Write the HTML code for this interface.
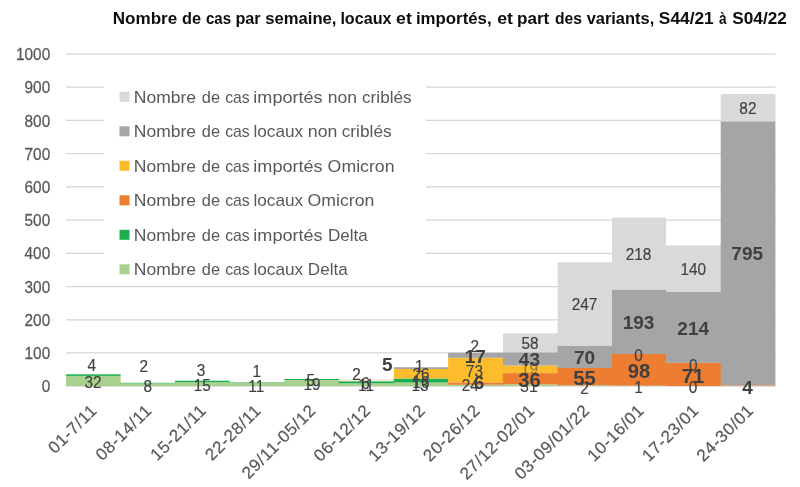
<!DOCTYPE html><html><head><meta charset="utf-8"><style>html,body{margin:0;padding:0;background:#fff;width:800px;height:487px;overflow:hidden}svg{display:block;will-change:transform;font-family:"Liberation Sans",sans-serif}</style></head><body>
<svg width="800" height="487" viewBox="0 0 800 487">
<rect width="800" height="487" fill="#fff"/>
<line x1="66.0" x2="775.42" y1="386.20" y2="386.20" stroke="#D5D5D5" stroke-width="1.25"/>
<line x1="66.0" x2="775.42" y1="352.98" y2="352.98" stroke="#D5D5D5" stroke-width="1.25"/>
<line x1="66.0" x2="775.42" y1="319.76" y2="319.76" stroke="#D5D5D5" stroke-width="1.25"/>
<line x1="66.0" x2="775.42" y1="286.54" y2="286.54" stroke="#D5D5D5" stroke-width="1.25"/>
<line x1="66.0" x2="775.42" y1="253.32" y2="253.32" stroke="#D5D5D5" stroke-width="1.25"/>
<line x1="66.0" x2="775.42" y1="220.10" y2="220.10" stroke="#D5D5D5" stroke-width="1.25"/>
<line x1="66.0" x2="775.42" y1="186.88" y2="186.88" stroke="#D5D5D5" stroke-width="1.25"/>
<line x1="66.0" x2="775.42" y1="153.66" y2="153.66" stroke="#D5D5D5" stroke-width="1.25"/>
<line x1="66.0" x2="775.42" y1="120.44" y2="120.44" stroke="#D5D5D5" stroke-width="1.25"/>
<line x1="66.0" x2="775.42" y1="87.22" y2="87.22" stroke="#D5D5D5" stroke-width="1.25"/>
<line x1="66.0" x2="775.42" y1="54.00" y2="54.00" stroke="#D5D5D5" stroke-width="1.25"/>
<rect x="104" y="62" width="322" height="218" fill="#fff"/>
<text x="529" y="392.10" font-size="16" fill="#404040" text-anchor="middle">31</text>
<path d="M66.00 375.90H120.60V382.80H121.20V386.00H66.00Z" fill="#A9D18E"/>
<rect x="66.00" y="374.30" width="54.60" height="1.60" fill="#1EAE4F"/>
<rect x="120.60" y="383.40" width="55.05" height="2.60" fill="#A9D18E"/>
<rect x="120.60" y="382.80" width="55.05" height="0.60" fill="#1EAE4F"/>
<path d="M175.05 382.25H229.65V382.40H230.25V386.00H175.05Z" fill="#A9D18E"/>
<rect x="175.05" y="380.70" width="54.60" height="1.55" fill="#1EAE4F"/>
<rect x="229.65" y="382.90" width="55.35" height="3.10" fill="#A9D18E"/>
<rect x="229.65" y="382.40" width="55.35" height="0.50" fill="#1EAE4F"/>
<rect x="284.40" y="380.10" width="55.00" height="5.90" fill="#A9D18E"/>
<path d="M284.40 378.90H338.80V379.60H339.40V380.10H284.40Z" fill="#1EAE4F"/>
<rect x="338.80" y="383.40" width="55.60" height="2.60" fill="#A9D18E"/>
<rect x="338.80" y="381.40" width="55.60" height="2.00" fill="#1EAE4F"/>
<rect x="338.80" y="379.60" width="55.60" height="0.90" fill="#EBCBA8"/>
<rect x="393.80" y="382.50" width="54.90" height="3.50" fill="#A9D18E"/>
<rect x="393.80" y="378.50" width="54.90" height="4.00" fill="#1EAE4F"/>
<rect x="393.80" y="369.00" width="54.90" height="9.50" fill="#FCBC2C"/>
<rect x="393.80" y="367.20" width="54.90" height="1.80" fill="#A5A5A5"/>
<rect x="448.10" y="384.80" width="55.40" height="1.20" fill="#A9D18E"/>
<rect x="448.10" y="382.40" width="55.40" height="2.40" fill="#ED7D31"/>
<rect x="448.10" y="357.80" width="55.40" height="24.60" fill="#FCBC2C"/>
<rect x="448.10" y="352.80" width="55.40" height="5.00" fill="#A5A5A5"/>
<rect x="502.90" y="384.40" width="55.30" height="1.60" fill="#A9D18E"/>
<rect x="502.90" y="373.10" width="55.30" height="11.30" fill="#ED7D31"/>
<rect x="502.90" y="365.50" width="55.30" height="7.60" fill="#FCBC2C"/>
<rect x="502.90" y="352.30" width="55.30" height="13.20" fill="#A5A5A5"/>
<rect x="502.90" y="333.30" width="55.30" height="19.00" fill="#D9D9D9"/>
<rect x="557.60" y="385.30" width="55.00" height="0.70" fill="#A9D18E"/>
<rect x="557.60" y="368.00" width="55.00" height="17.30" fill="#ED7D31"/>
<rect x="557.60" y="345.50" width="55.00" height="22.50" fill="#A5A5A5"/>
<rect x="557.60" y="262.30" width="55.00" height="83.20" fill="#D9D9D9"/>
<rect x="612.00" y="385.60" width="54.70" height="0.40" fill="#A9D18E"/>
<rect x="612.00" y="354.00" width="54.70" height="31.60" fill="#ED7D31"/>
<rect x="612.00" y="289.50" width="54.70" height="64.50" fill="#A5A5A5"/>
<path d="M612.00 217.50H666.10V245.50H666.70V289.50H612.00Z" fill="#D9D9D9"/>
<rect x="666.10" y="362.80" width="55.20" height="23.20" fill="#ED7D31"/>
<rect x="666.10" y="292.00" width="55.20" height="70.80" fill="#A5A5A5"/>
<rect x="666.10" y="245.50" width="55.20" height="46.50" fill="#D9D9D9"/>
<rect x="720.70" y="385.10" width="54.72" height="0.90" fill="#E9A070"/>
<rect x="720.70" y="121.30" width="54.72" height="263.80" fill="#A5A5A5"/>
<rect x="720.70" y="94.00" width="54.72" height="27.30" fill="#D9D9D9"/>
<text x="112.72" y="24.3" font-size="16.5" font-weight="bold" fill="#0D0D0D" textLength="64.50" lengthAdjust="spacingAndGlyphs">Nombre</text>
<text x="182.06" y="24.3" font-size="16.5" font-weight="bold" fill="#0D0D0D" textLength="19.05" lengthAdjust="spacingAndGlyphs">de</text>
<text x="205.92" y="24.3" font-size="16.5" font-weight="bold" fill="#0D0D0D" textLength="25.10" lengthAdjust="spacingAndGlyphs">cas</text>
<text x="235.42" y="24.3" font-size="16.5" font-weight="bold" fill="#0D0D0D" textLength="25.27" lengthAdjust="spacingAndGlyphs">par</text>
<text x="265.35" y="24.3" font-size="16.5" font-weight="bold" fill="#0D0D0D" textLength="71.09" lengthAdjust="spacingAndGlyphs">semaine,</text>
<text x="340.38" y="24.3" font-size="16.5" font-weight="bold" fill="#0D0D0D" textLength="51.15" lengthAdjust="spacingAndGlyphs">locaux</text>
<text x="396.10" y="24.3" font-size="16.5" font-weight="bold" fill="#0D0D0D" textLength="15.69" lengthAdjust="spacingAndGlyphs">et</text>
<text x="415.93" y="24.3" font-size="16.5" font-weight="bold" fill="#0D0D0D" textLength="75.73" lengthAdjust="spacingAndGlyphs">importés,</text>
<text x="497.30" y="24.3" font-size="16.5" font-weight="bold" fill="#0D0D0D" textLength="15.69" lengthAdjust="spacingAndGlyphs">et</text>
<text x="517.07" y="24.3" font-size="16.5" font-weight="bold" fill="#0D0D0D" textLength="32.21" lengthAdjust="spacingAndGlyphs">part</text>
<text x="554.89" y="24.3" font-size="16.5" font-weight="bold" fill="#0D0D0D" textLength="27.02" lengthAdjust="spacingAndGlyphs">des</text>
<text x="586.65" y="24.3" font-size="16.5" font-weight="bold" fill="#0D0D0D" textLength="67.57" lengthAdjust="spacingAndGlyphs">variants,</text>
<text x="658.88" y="24.3" font-size="16.5" font-weight="bold" fill="#0D0D0D" textLength="54.80" lengthAdjust="spacingAndGlyphs">S44/21</text>
<text x="718.99" y="24.3" font-size="16.5" font-weight="bold" fill="#0D0D0D" textLength="7.56" lengthAdjust="spacingAndGlyphs">à</text>
<text x="732.28" y="24.3" font-size="16.5" font-weight="bold" fill="#0D0D0D" textLength="54.54" lengthAdjust="spacingAndGlyphs">S04/22</text>
<rect x="119.5" y="91.80" width="10" height="10" fill="#D9D9D9"/>
<text x="133.75" y="102.90" font-size="17" fill="#595959" textLength="62.29" lengthAdjust="spacingAndGlyphs">Nombre</text>
<text x="201.78" y="102.90" font-size="17" fill="#595959" textLength="18.27" lengthAdjust="spacingAndGlyphs">de</text>
<text x="225.20" y="102.90" font-size="17" fill="#595959" textLength="24.56" lengthAdjust="spacingAndGlyphs">cas</text>
<text x="253.37" y="102.90" font-size="17" fill="#595959" textLength="69.26" lengthAdjust="spacingAndGlyphs">importés</text>
<text x="327.81" y="102.90" font-size="17" fill="#595959" textLength="29.25" lengthAdjust="spacingAndGlyphs">non</text>
<text x="362.04" y="102.90" font-size="17" fill="#595959" textLength="49.59" lengthAdjust="spacingAndGlyphs">criblés</text>
<rect x="119.5" y="126.30" width="10" height="10" fill="#A5A5A5"/>
<text x="133.75" y="137.40" font-size="17" fill="#595959" textLength="62.29" lengthAdjust="spacingAndGlyphs">Nombre</text>
<text x="201.78" y="137.40" font-size="17" fill="#595959" textLength="18.27" lengthAdjust="spacingAndGlyphs">de</text>
<text x="225.20" y="137.40" font-size="17" fill="#595959" textLength="24.56" lengthAdjust="spacingAndGlyphs">cas</text>
<text x="253.44" y="137.40" font-size="17" fill="#595959" textLength="49.61" lengthAdjust="spacingAndGlyphs">locaux</text>
<text x="307.79" y="137.40" font-size="17" fill="#595959" textLength="29.63" lengthAdjust="spacingAndGlyphs">non</text>
<text x="341.74" y="137.40" font-size="17" fill="#595959" textLength="49.90" lengthAdjust="spacingAndGlyphs">criblés</text>
<rect x="119.5" y="160.80" width="10" height="10" fill="#FCBC2C"/>
<text x="133.75" y="171.90" font-size="17" fill="#595959" textLength="62.29" lengthAdjust="spacingAndGlyphs">Nombre</text>
<text x="201.78" y="171.90" font-size="17" fill="#595959" textLength="18.27" lengthAdjust="spacingAndGlyphs">de</text>
<text x="225.20" y="171.90" font-size="17" fill="#595959" textLength="24.56" lengthAdjust="spacingAndGlyphs">cas</text>
<text x="253.37" y="171.90" font-size="17" fill="#595959" textLength="69.26" lengthAdjust="spacingAndGlyphs">importés</text>
<text x="327.62" y="171.90" font-size="17" fill="#595959" textLength="66.97" lengthAdjust="spacingAndGlyphs">Omicron</text>
<rect x="119.5" y="195.30" width="10" height="10" fill="#ED7D31"/>
<text x="133.75" y="206.40" font-size="17" fill="#595959" textLength="62.29" lengthAdjust="spacingAndGlyphs">Nombre</text>
<text x="201.78" y="206.40" font-size="17" fill="#595959" textLength="18.27" lengthAdjust="spacingAndGlyphs">de</text>
<text x="225.20" y="206.40" font-size="17" fill="#595959" textLength="24.56" lengthAdjust="spacingAndGlyphs">cas</text>
<text x="253.44" y="206.40" font-size="17" fill="#595959" textLength="49.61" lengthAdjust="spacingAndGlyphs">locaux</text>
<text x="307.62" y="206.40" font-size="17" fill="#595959" textLength="66.76" lengthAdjust="spacingAndGlyphs">Omicron</text>
<rect x="119.5" y="229.80" width="10" height="10" fill="#1EAE4F"/>
<text x="133.75" y="240.90" font-size="17" fill="#595959" textLength="62.29" lengthAdjust="spacingAndGlyphs">Nombre</text>
<text x="201.78" y="240.90" font-size="17" fill="#595959" textLength="18.27" lengthAdjust="spacingAndGlyphs">de</text>
<text x="225.20" y="240.90" font-size="17" fill="#595959" textLength="24.56" lengthAdjust="spacingAndGlyphs">cas</text>
<text x="253.37" y="240.90" font-size="17" fill="#595959" textLength="69.26" lengthAdjust="spacingAndGlyphs">importés</text>
<text x="327.90" y="240.90" font-size="17" fill="#595959" textLength="39.74" lengthAdjust="spacingAndGlyphs">Delta</text>
<rect x="119.5" y="264.30" width="10" height="10" fill="#A9D18E"/>
<text x="133.75" y="275.40" font-size="17" fill="#595959" textLength="62.29" lengthAdjust="spacingAndGlyphs">Nombre</text>
<text x="201.78" y="275.40" font-size="17" fill="#595959" textLength="18.27" lengthAdjust="spacingAndGlyphs">de</text>
<text x="225.20" y="275.40" font-size="17" fill="#595959" textLength="24.56" lengthAdjust="spacingAndGlyphs">cas</text>
<text x="253.44" y="275.40" font-size="17" fill="#595959" textLength="49.61" lengthAdjust="spacingAndGlyphs">locaux</text>
<text x="307.89" y="275.40" font-size="17" fill="#595959" textLength="39.84" lengthAdjust="spacingAndGlyphs">Delta</text>
<text transform="translate(50.2,392.20) scale(0.96,1)" font-size="16" fill="#595959" stroke="#595959" stroke-width="0.25" text-anchor="end">0</text>
<text transform="translate(50.2,359.00) scale(0.96,1)" font-size="16" fill="#595959" stroke="#595959" stroke-width="0.25" text-anchor="end">100</text>
<text transform="translate(50.2,325.80) scale(0.96,1)" font-size="16" fill="#595959" stroke="#595959" stroke-width="0.25" text-anchor="end">200</text>
<text transform="translate(50.2,292.60) scale(0.96,1)" font-size="16" fill="#595959" stroke="#595959" stroke-width="0.25" text-anchor="end">300</text>
<text transform="translate(50.2,259.40) scale(0.96,1)" font-size="16" fill="#595959" stroke="#595959" stroke-width="0.25" text-anchor="end">400</text>
<text transform="translate(50.2,226.20) scale(0.96,1)" font-size="16" fill="#595959" stroke="#595959" stroke-width="0.25" text-anchor="end">500</text>
<text transform="translate(50.2,193.00) scale(0.96,1)" font-size="16" fill="#595959" stroke="#595959" stroke-width="0.25" text-anchor="end">600</text>
<text transform="translate(50.2,159.80) scale(0.96,1)" font-size="16" fill="#595959" stroke="#595959" stroke-width="0.25" text-anchor="end">700</text>
<text transform="translate(50.2,126.60) scale(0.96,1)" font-size="16" fill="#595959" stroke="#595959" stroke-width="0.25" text-anchor="end">800</text>
<text transform="translate(50.2,93.40) scale(0.96,1)" font-size="16" fill="#595959" stroke="#595959" stroke-width="0.25" text-anchor="end">900</text>
<text transform="translate(50.2,60.20) scale(0.96,1)" font-size="16" fill="#595959" stroke="#595959" stroke-width="0.25" text-anchor="end">1000</text>
<text transform="translate(98.06,411.40) rotate(-45)" x="0" y="0" font-size="17" fill="#595959" stroke="#595959" stroke-width="0.2" text-anchor="end" letter-spacing="0.64">01-7/11</text>
<text transform="translate(152.78,411.40) rotate(-45)" x="0" y="0" font-size="17" fill="#595959" stroke="#595959" stroke-width="0.2" text-anchor="end" letter-spacing="0.64">08-14/11</text>
<text transform="translate(207.50,411.40) rotate(-45)" x="0" y="0" font-size="17" fill="#595959" stroke="#595959" stroke-width="0.2" text-anchor="end" letter-spacing="0.64">15-21/11</text>
<text transform="translate(262.22,411.40) rotate(-45)" x="0" y="0" font-size="17" fill="#595959" stroke="#595959" stroke-width="0.2" text-anchor="end" letter-spacing="0.64">22-28/11</text>
<text transform="translate(316.94,411.40) rotate(-45)" x="0" y="0" font-size="17" fill="#595959" stroke="#595959" stroke-width="0.2" text-anchor="end" letter-spacing="0.64">29/11-05/12</text>
<text transform="translate(371.66,411.40) rotate(-45)" x="0" y="0" font-size="17" fill="#595959" stroke="#595959" stroke-width="0.2" text-anchor="end" letter-spacing="0.64">06-12/12</text>
<text transform="translate(426.38,411.40) rotate(-45)" x="0" y="0" font-size="17" fill="#595959" stroke="#595959" stroke-width="0.2" text-anchor="end" letter-spacing="0.64">13-19/12</text>
<text transform="translate(481.10,411.40) rotate(-45)" x="0" y="0" font-size="17" fill="#595959" stroke="#595959" stroke-width="0.2" text-anchor="end" letter-spacing="0.64">20-26/12</text>
<text transform="translate(535.82,411.40) rotate(-45)" x="0" y="0" font-size="17" fill="#595959" stroke="#595959" stroke-width="0.2" text-anchor="end" letter-spacing="0.64">27/12-02/01</text>
<text transform="translate(590.54,411.40) rotate(-45)" x="0" y="0" font-size="17" fill="#595959" stroke="#595959" stroke-width="0.2" text-anchor="end" letter-spacing="0.64">03-09/01/22</text>
<text transform="translate(645.26,411.40) rotate(-45)" x="0" y="0" font-size="17" fill="#595959" stroke="#595959" stroke-width="0.2" text-anchor="end" letter-spacing="0.64">10-16/01</text>
<text transform="translate(699.98,411.40) rotate(-45)" x="0" y="0" font-size="17" fill="#595959" stroke="#595959" stroke-width="0.2" text-anchor="end" letter-spacing="0.64">17-23/01</text>
<text transform="translate(754.70,411.40) rotate(-45)" x="0" y="0" font-size="17" fill="#595959" stroke="#595959" stroke-width="0.2" text-anchor="end" letter-spacing="0.64">24-30/01</text>
<text transform="translate(91.8,370.55) scale(0.96,1)" font-size="16" fill="#404040" stroke="#404040" stroke-width="0.15" text-anchor="middle">4</text>
<text transform="translate(93,387.95) scale(0.96,1)" font-size="16" fill="#404040" stroke="#404040" stroke-width="0.15" text-anchor="middle">32</text>
<text transform="translate(143.8,371.75) scale(0.96,1)" font-size="16" fill="#404040" stroke="#404040" stroke-width="0.15" text-anchor="middle">2</text>
<text transform="translate(147.8,392.25) scale(0.96,1)" font-size="16" fill="#404040" stroke="#404040" stroke-width="0.15" text-anchor="middle">8</text>
<text transform="translate(201.1,375.95) scale(0.96,1)" font-size="16" fill="#404040" stroke="#404040" stroke-width="0.15" text-anchor="middle">3</text>
<text transform="translate(202.3,391.05) scale(0.96,1)" font-size="16" fill="#404040" stroke="#404040" stroke-width="0.15" text-anchor="middle">15</text>
<text transform="translate(256.7,376.85) scale(0.96,1)" font-size="16" fill="#404040" stroke="#404040" stroke-width="0.15" text-anchor="middle">1</text>
<text transform="translate(256.3,392.05) scale(0.96,1)" font-size="16" fill="#404040" stroke="#404040" stroke-width="0.15" text-anchor="middle">11</text>
<text transform="translate(310.7,386.25) scale(0.96,1)" font-size="16" fill="#404040" stroke="#404040" stroke-width="0.15" text-anchor="middle">5</text>
<text transform="translate(312,389.85) scale(0.96,1)" font-size="16" fill="#404040" stroke="#404040" stroke-width="0.15" text-anchor="middle">19</text>
<text transform="translate(356.5,380.45) scale(0.96,1)" font-size="16" fill="#404040" stroke="#404040" stroke-width="0.15" text-anchor="middle">2</text>
<text transform="translate(365.4,389.15) scale(0.96,1)" font-size="16" fill="#404040" stroke="#404040" stroke-width="0.15" text-anchor="middle">6</text>
<text transform="translate(366,390.65) scale(0.96,1)" font-size="16" fill="#404040" stroke="#404040" stroke-width="0.15" text-anchor="middle">11</text>
<text x="387.2" y="371.40" font-size="19" font-weight="bold" fill="#404040" text-anchor="middle">5</text>
<text transform="translate(419.3,372.45) scale(0.96,1)" font-size="16" fill="#404040" stroke="#404040" stroke-width="0.15" text-anchor="middle">1</text>
<text transform="translate(421,380.05) scale(0.96,1)" font-size="16" fill="#404040" stroke="#404040" stroke-width="0.15" text-anchor="middle">26</text>
<text transform="translate(421,388.05) scale(0.96,1)" font-size="16" fill="#404040" stroke="#404040" stroke-width="0.15" text-anchor="middle">16</text>
<text transform="translate(420,390.65) scale(0.96,1)" font-size="16" fill="#404040" stroke="#404040" stroke-width="0.15" text-anchor="middle">13</text>
<text transform="translate(474.7,352.15) scale(0.96,1)" font-size="16" fill="#404040" stroke="#404040" stroke-width="0.15" text-anchor="middle">2</text>
<text x="475.3" y="363.20" font-size="19" font-weight="bold" fill="#404040" text-anchor="middle">17</text>
<text transform="translate(474.4,376.85) scale(0.96,1)" font-size="16" fill="#404040" stroke="#404040" stroke-width="0.15" text-anchor="middle">73</text>
<text transform="translate(470.2,391.05) scale(0.96,1)" font-size="16" fill="#404040" stroke="#404040" stroke-width="0.15" text-anchor="middle">24</text>
<text x="479" y="389.10" font-size="19" font-weight="bold" fill="#404040" text-anchor="middle">6</text>
<text transform="translate(530.1,349.05) scale(0.96,1)" font-size="16" fill="#404040" stroke="#404040" stroke-width="0.15" text-anchor="middle">58</text>
<text x="529.4" y="366.20" font-size="19" font-weight="bold" fill="#404040" text-anchor="middle">43</text>
<text transform="translate(529.4,374.45) scale(0.96,1)" font-size="16" fill="#404040" fill-opacity="0.55" text-anchor="middle">19</text>
<text x="529.4" y="387.10" font-size="20.2" font-weight="bold" fill="#404040" text-anchor="middle">36</text>
<text transform="translate(584.5,310.45) scale(0.96,1)" font-size="16" fill="#404040" stroke="#404040" stroke-width="0.15" text-anchor="middle">247</text>
<text x="584.5" y="364.40" font-size="19" font-weight="bold" fill="#404040" text-anchor="middle">70</text>
<text x="584.5" y="384.70" font-size="20.2" font-weight="bold" fill="#404040" text-anchor="middle">55</text>
<text transform="translate(584.5,394.15) scale(0.96,1)" font-size="16" fill="#404040" stroke="#404040" stroke-width="0.15" text-anchor="middle">2</text>
<text transform="translate(638.6,259.85) scale(0.96,1)" font-size="16" fill="#404040" stroke="#404040" stroke-width="0.15" text-anchor="middle">218</text>
<text x="638.6" y="328.70" font-size="19" font-weight="bold" fill="#404040" text-anchor="middle">193</text>
<text transform="translate(638.6,360.85) scale(0.96,1)" font-size="16" fill="#404040" stroke="#404040" stroke-width="0.15" text-anchor="middle">0</text>
<text x="639" y="378.10" font-size="20.2" font-weight="bold" fill="#404040" text-anchor="middle">98</text>
<text transform="translate(638.6,393.15) scale(0.96,1)" font-size="16" fill="#404040" stroke="#404040" stroke-width="0.15" text-anchor="middle">1</text>
<text transform="translate(693.2,275.45) scale(0.96,1)" font-size="16" fill="#404040" stroke="#404040" stroke-width="0.15" text-anchor="middle">140</text>
<text x="693.2" y="335.20" font-size="19" font-weight="bold" fill="#404040" text-anchor="middle">214</text>
<text transform="translate(693.3,370.75) scale(0.96,1)" font-size="16" fill="#404040" stroke="#404040" stroke-width="0.15" text-anchor="middle">0</text>
<text x="693" y="383.00" font-size="20.2" font-weight="bold" fill="#404040" text-anchor="middle">71</text>
<text transform="translate(693,393.35) scale(0.96,1)" font-size="16" fill="#404040" stroke="#404040" stroke-width="0.15" text-anchor="middle">0</text>
<text transform="translate(747.9,113.75) scale(0.96,1)" font-size="16" fill="#404040" stroke="#404040" stroke-width="0.15" text-anchor="middle">82</text>
<text x="747.2" y="260.10" font-size="19" font-weight="bold" fill="#404040" text-anchor="middle">795</text>
<text x="747.5" y="393.70" font-size="19" font-weight="bold" fill="#404040" text-anchor="middle">4</text>
</svg></body></html>
